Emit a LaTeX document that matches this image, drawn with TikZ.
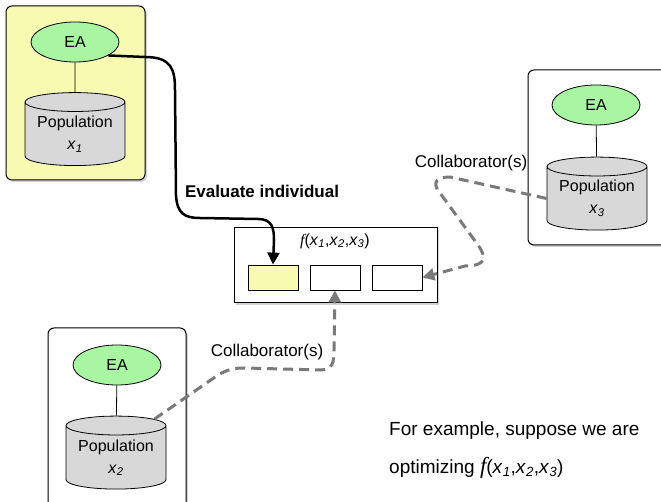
\documentclass[tikz,border=0pt]{standalone}
\usepackage{fontspec}
\setmainfont{Liberation Sans}
\newfontfamily\seriffont{Liberation Serif}
\usetikzlibrary{shapes.geometric,arrows.meta,shadows}
\definecolor{popyellow}{HTML}{F7FAB0}
\definecolor{eagreen}{HTML}{A8F5A2}
\definecolor{popgray}{HTML}{D8D8D8}
\definecolor{linkgray}{HTML}{7A7A7A}
\newcommand{\xvar}[1]{\textit{x}\textsubscript{\textit{#1}}}
\newcommand{\ffun}[1][16]{{\fontsize{#1}{#1}\selectfont\seriffont\itshape f}}

\begin{document}
\begin{tikzpicture}[x=1pt,y=-1pt,font=\fontsize{16}{22}\selectfont,
            islandbox/.style={draw,rounded corners=6pt,line width=1pt,
                drop shadow={opacity=0.35,shadow xshift=2pt,shadow yshift=-2pt}},
            eanode/.style={ellipse,draw,line width=0.8pt,fill=eagreen,
                minimum width=88pt,minimum height=40pt,inner sep=0pt},
            popnode/.style={cylinder,shape border rotate=90,draw,line width=0.8pt,
                fill=popgray,aspect=0.25,minimum width=100pt,minimum height=73pt,
                align=center,inner sep=0pt},
            slot/.style={draw,line width=0.8pt,minimum width=50pt,minimum height=25pt,inner sep=0pt},
            labeltext/.style={font=\fontsize{17}{20}\selectfont},
            collab/.style={draw=linkgray,line width=3pt,dash pattern=on 10pt off 6pt,
                -{Triangle[length=12pt,width=12pt]}}]
            \useasboundingbox (0,0) rectangle (661,502);
            \clip (0,0) rectangle (661,502);
            % island 1
            \node[islandbox,fill=popyellow,minimum width=139pt,minimum height=174pt] (isle1) at (75.5,93) {};
            \node[eanode] (ea1) at (75,42) {EA};
            \node[popnode] (pop1) at (75,134) {Population\\\xvar{1}};
            \draw[line width=0.8pt] (ea1) -- (pop1);
            % island 3
            \node[islandbox,fill=white,minimum width=162pt,minimum height=175pt] (isle3) at (609,157.5) {};
            \node[eanode] (ea3) at (596,105) {EA};
            \node[popnode] (pop3) at (597,198.5) {Population\\\xvar{3}};
            \draw[line width=0.8pt] (ea3) -- (pop3);
            % island 2
            \node[islandbox,fill=white,minimum width=138pt,minimum height=187pt] (isle2) at (117,421.5) {};
            \node[eanode] (ea2) at (117,365) {EA};
            \node[popnode] (pop2) at (116,457.5) {Population\\\xvar{2}};
            \draw[line width=0.8pt] (ea2) -- (pop2);
            % fitness
            \node[draw,fill=white,line width=1pt,minimum width=203pt,minimum height=75pt,
                drop shadow={opacity=0.35,shadow xshift=2pt,shadow yshift=-2pt}] (fbox) at (335.5,265.5) {};
            \node (flabel) at (335,241) {\ffun(\xvar{1},\xvar{2},\xvar{3})};
            \node[slot,fill=popyellow] (fa) at (273,277.5) {};
            \node[slot,fill=white] (fb) at (335,277.5) {};
            \node[slot,fill=white] (fc) at (397,277.5) {};
            \node[labeltext] (evallabel) at (262,191) {\textbf{Evaluate individual}};
            \node[labeltext] (collab3) at (471,163) {Collaborator(s)};
            \node[labeltext] (collab2) at (267,352) {Collaborator(s)};
            \node[anchor=base west,inner sep=0pt] (note1) at (389,435) {\fontsize{19}{22}\selectfont For example, suppose we are};
            \node[anchor=base west,inner sep=0pt] (note2) at (389,473) {\fontsize{19}{22}\selectfont optimizing \ffun[23](\xvar{1},\xvar{2},\xvar{3})};
            \draw[line width=2.5pt,-{Triangle[length=12pt,width=12pt]}] (ea1.-22) -- (145,57)
                .. controls (172,57) and (175,70) .. (175,90) -- (176,195)
                .. controls (177,214) and (185,218) .. (200,218) -- (258,219)
                .. controls (272,219) and (274,228) .. (274,240) -- (fa.north);
            \draw[collab] (pop3.west) -- (450,177)
                .. controls (432,177) and (434,186) .. (440,193) -- (478,245)
                .. controls (490,262) and (480,266) .. (465,266) -- (fc.east);
            \draw[collab] (pop2.north east) -- (218,375)
                .. controls (228,369) and (235,368) .. (245,368) -- (320,370)
                .. controls (333,370) and (334,362) .. (334,350) -- (fb.south);
        \end{tikzpicture}
\end{document}
